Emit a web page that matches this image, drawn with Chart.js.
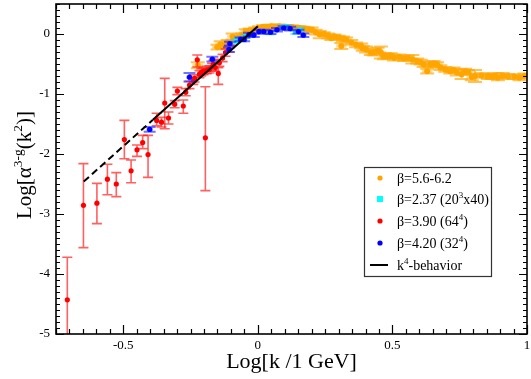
<!DOCTYPE html>
<html><head><meta charset="utf-8">
<script src="https://cdn.jsdelivr.net/npm/chart.js@4.4.0/dist/chart.umd.min.js"></script>
<style>html,body{margin:0;padding:0;background:#fff;}</style>
</head><body>
<canvas id="c" width="531" height="379"></canvas>
<script>
// ---------- data ----------
const xTicks = [-0.5, 0, 0.5, 1];
const yTicks = [0, -1, -2, -3, -4, -5];

const orangeX = [-0.223,-0.150,-0.138,-0.125,-0.112,-0.094,-0.075,-0.060,-0.045,-0.030,-0.010,0.004,0.020,0.035,0.050,0.065,0.080,0.095,0.110,0.126,0.140,0.155,0.170,0.185,0.200,0.215,0.230,0.245,0.261,0.273,0.285,0.300,0.310,0.316,0.328,0.347,0.365,0.384,0.390,0.402,0.420,0.432,0.445,0.457,0.469,0.482,0.494,0.506,0.525,0.543,0.558,0.574,0.592,0.605,0.616,0.629,0.641,0.653,0.666,0.678,0.696,0.715,0.727,0.739,0.757,0.770,0.782,0.795,0.807,0.831,0.855,0.868,0.880,0.892,0.910,0.929,0.953,0.972,0.990];
const orangeY = [-0.52,-0.22,-0.17,-0.20,-0.14,-0.04,-0.06,-0.02,0.05,0.06,0.08,0.10,0.12,0.11,0.13,0.12,0.13,0.12,0.11,0.115,0.10,0.10,0.09,0.08,0.07,0.03,-0.01,0.00,-0.03,-0.07,-0.04,-0.06,-0.20,-0.08,-0.09,-0.14,-0.18,-0.20,-0.24,-0.26,-0.31,-0.30,-0.28,-0.31,-0.37,-0.37,-0.36,-0.40,-0.38,-0.41,-0.40,-0.42,-0.45,-0.47,-0.51,-0.62,-0.51,-0.49,-0.51,-0.56,-0.59,-0.62,-0.60,-0.64,-0.67,-0.62,-0.64,-0.72,-0.70,-0.69,-0.71,-0.71,-0.69,-0.73,-0.69,-0.71,-0.71,-0.73,-0.70];
const orangeErr = [0.05,0.04,0.05,0.04,0.04,0.05,0.03,0.03,0.03,0.03,0.03,0.03,0.03,0.03,0.03,0.03,0.03,0.03,0.03,0.03,0.03,0.03,0.03,0.03,0.04,0.04,0.06,0.03,0.04,0.03,0.03,0.03,0.05,0.04,0.03,0.04,0.04,0.04,0.04,0.05,0.04,0.06,0.05,0.10,0.05,0.04,0.04,0.04,0.04,0.04,0.04,0.07,0.04,0.04,0.04,0.04,0.05,0.04,0.04,0.04,0.04,0.04,0.04,0.05,0.08,0.04,0.04,0.05,0.10,0.04,0.04,0.04,0.04,0.04,0.04,0.04,0.04,0.04,0.04];

const cyanX = [-0.082,-0.070,-0.045,0.047,0.090,0.107,0.139,0.157];
const cyanY = [-0.12,-0.09,-0.04,0.02,0.11,0.12,0.03,0.07];
const cyanErr = [0.03,0.03,0.03,0.03,0.03,0.03,0.03,0.03];

const redX = [-0.708,-0.648,-0.598,-0.559,-0.526,-0.496,-0.471,-0.449,-0.428,-0.408,-0.376,-0.358,-0.346,-0.332,-0.309,-0.299,-0.277,-0.268,-0.254,-0.240,-0.235,-0.225,-0.217,-0.210,-0.202,-0.195,-0.190,-0.180,-0.170,-0.165,-0.158,-0.147,-0.143,-0.131,-0.120,-0.107];
const redY = [-4.43,-2.855,-2.82,-2.42,-2.50,-1.76,-2.28,-1.93,-1.81,-2.01,-1.44,-1.47,-1.15,-1.40,-1.17,-0.95,-1.20,-0.97,-0.85,-0.78,-0.74,-0.43,-0.67,-0.64,-0.62,-1.73,-0.60,-0.59,-0.55,-0.50,-0.56,-0.66,-0.48,-0.40,-0.31,-0.25];
const redLo = [-5.3,-3.56,-3.16,-2.68,-2.71,-2.08,-2.48,-2.04,-1.91,-2.39,-1.53,-1.55,-1.58,-1.50,-1.23,-1.01,-1.32,-1.03,-0.91,-0.84,-0.80,-0.55,-0.73,-0.70,-0.68,-2.61,-0.66,-0.65,-0.61,-0.56,-0.62,-0.84,-0.54,-0.46,-0.37,-0.30];
const redHi = [-3.72,-2.16,-2.49,-2.17,-2.31,-1.44,-2.10,-1.85,-1.69,-1.69,-1.32,-1.39,-0.74,-1.30,-1.11,-0.89,-1.10,-0.91,-0.79,-0.72,-0.68,-0.35,-0.61,-0.58,-0.56,-0.88,-0.54,-0.53,-0.49,-0.44,-0.50,-0.56,-0.42,-0.34,-0.25,-0.20];

const blueX = [-0.402,-0.254,-0.169,-0.107,-0.104,-0.064,-0.051,-0.033,-0.015,0.004,0.022,0.047,0.071,0.096,0.120,0.151,0.169];
const blueY = [-1.59,-0.72,-0.42,-0.26,-0.16,-0.09,-0.09,-0.01,-0.02,0.04,0.04,0.03,0.07,0.10,0.09,0.04,-0.02];
const blueErr = [0.04,0.07,0.04,0.04,0.03,0.03,0.03,0.03,0.03,0.03,0.03,0.03,0.03,0.03,0.03,0.03,0.03];

const kLineX = [-0.647, -0.39, 0.0];
const kLineY = [-2.46, -1.43, 0.13];

const xTitle = 'Log[k /1 GeV]';
const yTitleParts = [['Log[\u03B1',0],['3-g',1],['(k',0],['2',1],[')]',0]];
const legendLabels = [
  [['\u03B2=5.6-6.2',0]],
  [['\u03B2=2.37 (20',0],['3',1],['x40)',0]],
  [['\u03B2=3.90 (64',0],['4',1],[')',0]],
  [['\u03B2=4.20 (32',0],['4',1],[')',0]],
  [['k',0],['4',1],['-behavior',0]]
];

// ---------- helpers ----------
const FAM = "'Liberation Serif', 'Times New Roman', serif";
const pts = (xs, ys) => xs.map((x, i) => ({x: x, y: ys[i]}));
function richWidth(ctx, parts, size) {
  let w = 0;
  parts.forEach(p => { ctx.font = (p[1] ? size * 0.64 : size) + 'px ' + FAM; w += ctx.measureText(p[0]).width; });
  return w;
}
function drawRich(ctx, parts, x, y, size) {
  let cx = x;
  ctx.textBaseline = 'alphabetic'; ctx.textAlign = 'left';
  parts.forEach(p => {
    const s = p[1] ? size * 0.64 : size;
    ctx.font = s + 'px ' + FAM;
    ctx.fillText(p[0], cx, p[1] ? y - size * 0.45 : y);
    cx += ctx.measureText(p[0]).width;
  });
}

// ---------- plugins ----------
const errorBars = {
  id: 'errorBars',
  beforeDatasetDraw(chart, args) {
    const ds = chart.data.datasets[args.index];
    if (!ds.errLo) return;
    const xs = chart.scales.x, ys = chart.scales.y, ctx = chart.ctx, a = chart.chartArea;
    ctx.save();
    ctx.beginPath(); ctx.rect(a.left, a.top, a.right - a.left, a.bottom - a.top); ctx.clip();
    if (ds.xErr) {
      ctx.strokeStyle = ds.xErrColor; ctx.lineWidth = ds.xErrWidth;
      ds.data.forEach(p => {
        const py = ys.getPixelForValue(p.y);
        ctx.beginPath();
        ctx.moveTo(xs.getPixelForValue(p.x - ds.xErr), py);
        ctx.lineTo(xs.getPixelForValue(p.x + ds.xErr), py);
        ctx.stroke();
      });
    }
    ctx.strokeStyle = ds.errColor; ctx.lineWidth = ds.errWidth;
    ds.data.forEach((p, i) => {
      const px = xs.getPixelForValue(p.x);
      const y1 = ys.getPixelForValue(ds.errLo[i]), y2 = ys.getPixelForValue(ds.errHi[i]);
      const c = ds.capHalf;
      ctx.beginPath();
      ctx.moveTo(px, y1); ctx.lineTo(px, y2);
      ctx.moveTo(px - c, y1); ctx.lineTo(px + c, y1);
      ctx.moveTo(px - c, y2); ctx.lineTo(px + c, y2);
      ctx.stroke();
    });
    ctx.restore();
  }
};

const frame = {
  id: 'frame',
  afterDraw(chart) {
    const ctx = chart.ctx, a = chart.chartArea, x = chart.scales.x, y = chart.scales.y;
    ctx.save();
    ctx.strokeStyle = '#000';
    ctx.lineWidth = 1.6;
    ctx.strokeRect(a.left, a.top, a.right - a.left, a.bottom - a.top);
    ctx.lineWidth = 1.2;
    ctx.beginPath();
    for (let k = -15; k <= 20; k++) {
      const px = Math.round(x.getPixelForValue(k * 0.05)) + 0.5;
      const len = (k % 10 === 0) ? 9 : 5;
      ctx.moveTo(px, a.bottom); ctx.lineTo(px, a.bottom - len);
      ctx.moveTo(px, a.top); ctx.lineTo(px, a.top + len);
    }
    for (let k = -50; k <= 5; k++) {
      const py = Math.round(y.getPixelForValue(k * 0.1)) + 0.5;
      const len = (k % 10 === 0) ? 8 : 4;
      ctx.moveTo(a.left, py); ctx.lineTo(a.left + len, py);
      ctx.moveTo(a.right, py); ctx.lineTo(a.right - len, py);
    }
    ctx.stroke();

    // y title
    ctx.fillStyle = '#000';
    ctx.save();
    const ySize = 21;
    const w = richWidth(ctx, yTitleParts, ySize);
    ctx.translate(31, (a.top + a.bottom) / 2 - 4);
    ctx.rotate(-Math.PI / 2);
    drawRich(ctx, yTitleParts, -w / 2, 0, ySize);
    ctx.restore();

    // legend
    const bx = 364, by = 167, bw = 127, bh = 109;
    ctx.fillStyle = '#fff';
    ctx.fillRect(bx, by, bw, bh);
    ctx.strokeStyle = '#333'; ctx.lineWidth = 1.2;
    ctx.strokeRect(bx + 0.5, by + 0.5, bw, bh);
    const rows = [178, 199, 221, 243, 265];
    [0, 1, 2, 3, 4].forEach((di, r) => {
      const ds = chart.data.datasets[di];
      const cy = rows[r];
      if (ds.legendKind === 'line') {
        ctx.strokeStyle = '#000'; ctx.lineWidth = 2;
        ctx.beginPath(); ctx.moveTo(370, cy); ctx.lineTo(388, cy); ctx.stroke();
      } else if (ds.pointStyle === 'rect') {
        ctx.fillStyle = ds.backgroundColor;
        ctx.fillRect(377, cy - 3, 6, 6);
      } else {
        ctx.fillStyle = ds.backgroundColor;
        ctx.beginPath(); ctx.arc(380, cy, 2.6, 0, Math.PI * 2); ctx.fill();
      }
      ctx.fillStyle = '#000';
      drawRich(ctx, legendLabels[r], 397, cy + 5, 14);
    });
    ctx.restore();
  }
};

// ---------- chart ----------
const datasets = [
  { label: 'orange', data: pts(orangeX, orangeY), backgroundColor: '#FFA500', pointRadius: 3, pointBorderWidth: 0, order: 5,
    errLo: orangeY.map((v, i) => v - orangeErr[i]), errHi: orangeY.map((v, i) => v + orangeErr[i]),
    errColor: 'rgba(255,165,0,0.65)', errWidth: 2, capHalf: 7,
    xErr: 0.02, xErrColor: 'rgba(255,175,40,0.45)', xErrWidth: 3.5 },
  { label: 'cyan', data: pts(cyanX, cyanY), backgroundColor: '#00FFFF', pointStyle: 'rect', pointRadius: 3, pointBorderWidth: 0, order: 4,
    errLo: cyanY.map((v, i) => v - cyanErr[i]), errHi: cyanY.map((v, i) => v + cyanErr[i]),
    errColor: 'rgba(0,220,220,0.6)', errWidth: 1.5, capHalf: 5 },
  { label: 'red', data: pts(redX, redY), backgroundColor: '#FF0000', pointRadius: 2.6, pointBorderWidth: 0, order: 3,
    errLo: redLo, errHi: redHi, errColor: 'rgba(255,20,20,0.68)', errWidth: 1.6, capHalf: 5 },
  { label: 'blue', data: pts(blueX, blueY), backgroundColor: '#0000FF', pointRadius: 2.6, pointBorderWidth: 0, order: 2,
    errLo: blueY.map((v, i) => v - blueErr[i]), errHi: blueY.map((v, i) => v + blueErr[i]),
    errColor: 'rgba(40,40,255,0.65)', errWidth: 2, capHalf: 6,
    xErr: 0.012, xErrColor: 'rgba(60,60,255,0.45)', xErrWidth: 3 },
  { label: 'k4', data: pts(kLineX, kLineY), showLine: true, borderColor: '#000', borderWidth: 2, pointRadius: 0,
    backgroundColor: '#000', legendKind: 'line', order: 1,
    segment: { borderDash: ctx => ctx.p0DataIndex === 0 ? [7, 4] : undefined } }
];

Chart.defaults.font.family = FAM;
Chart.defaults.color = '#000';

new Chart(document.getElementById('c'), {
  type: 'scatter',
  data: { datasets: datasets },
  options: {
    responsive: false,
    animation: false,
    devicePixelRatio: 1,
    layout: { padding: { top: 1, right: 1, left: 0, bottom: 0 } },
    plugins: { legend: { display: false }, tooltip: { enabled: false } },
    scales: {
      x: {
        type: 'linear', min: -0.75, max: 1,
        grid: { display: false, drawTicks: false },
        border: { display: false },
        ticks: { font: { size: 13 }, color: '#000', padding: 4, maxRotation: 0, callback: v => String(v) },
        afterBuildTicks: s => { s.ticks = xTicks.map(v => ({ value: v })); },
        afterFit: s => { s.height = 45; s.paddingLeft = 0; s.paddingRight = 0; },
        title: { display: true, text: xTitle, font: { size: 22 }, color: '#000', padding: { top: 0, bottom: 4 } }
      },
      y: {
        type: 'linear', min: -5, max: 0.5,
        grid: { display: false, drawTicks: false },
        border: { display: false },
        ticks: { font: { size: 13 }, color: '#000', padding: 6, callback: v => String(v) },
        afterBuildTicks: s => { s.ticks = yTicks.map(v => ({ value: v })); },
        afterFit: s => { s.width = 56; s.paddingTop = 0; s.paddingBottom = 0; }
      }
    }
  },
  plugins: [errorBars, frame]
});
</script>
</body></html>
